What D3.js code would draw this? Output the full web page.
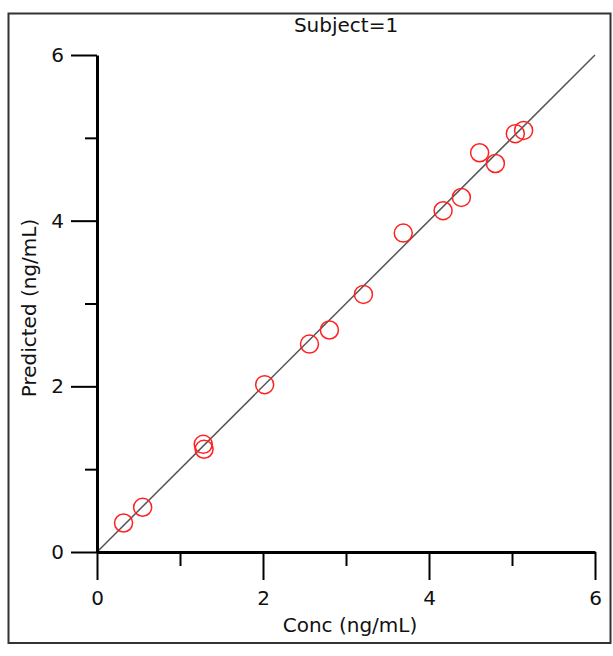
<!DOCTYPE html>
<html>
<head>
<meta charset="utf-8">
<script src="https://cdn.jsdelivr.net/npm/d3@7/dist/d3.min.js"></script>
<style>
  body { margin: 0; background: #fff; }
  svg { display: block; }
  text { font-family: "DejaVu Sans", Verdana, sans-serif; fill: #111; }
</style>
</head>
<body>
<svg id="chart" width="613" height="656"></svg>
<script>
const title = "Subject=1";
const xLabel = "Conc (ng/mL)";
const yLabel = "Predicted (ng/mL)";
const majorTicks = [0, 2, 4, 6];
const minorTicks = [1, 3, 5];
const concValues = [0.32, 0.55, 1.28, 1.29, 2.02, 2.56, 2.80, 3.21, 3.69, 4.17, 4.39, 4.61, 4.80, 5.04, 5.14];
const predictedValues = [0.35, 0.54, 1.30, 1.24, 2.02, 2.51, 2.68, 3.11, 3.85, 4.12, 4.28, 4.82, 4.69, 5.05, 5.09];
const identityLine = [0, 6];

(function () {
const svg = d3.select("#chart");
const mLeft = 97, mRight = 595, mTop = 55, mBottom = 552;

const x = d3.scaleLinear().domain([0, 6]).range([mLeft, mRight]);
const y = d3.scaleLinear().domain([0, 6]).range([mBottom, mTop]);

// frame
svg.append("rect")
  .attr("x", 8.5).attr("y", 13.5).attr("width", 602).attr("height", 629.5)
  .attr("fill", "none").attr("stroke", "#333").attr("stroke-width", 2);

// title
svg.append("text").attr("x", (mLeft + mRight) / 2).attr("y", 32)
  .attr("text-anchor", "middle").style("font-size", "20px").text(title);

// identity line
svg.append("line")
  .attr("x1", x(identityLine[0])).attr("y1", y(identityLine[0]))
  .attr("x2", x(identityLine[1])).attr("y2", y(identityLine[1]))
  .attr("stroke", "#555").attr("stroke-width", 1.5);

function styleAxis(g) {
  g.selectAll("line").attr("stroke", "#000").attr("stroke-width", 2);
  g.selectAll("path.domain").attr("stroke", "#000").attr("stroke-width", 3);
  g.selectAll("text").style("font-size", "20px").attr("fill", "#111");
}

const xMajor = svg.append("g").attr("transform", `translate(0,${mBottom})`)
  .call(d3.axisBottom(x).tickValues(majorTicks).tickSize(28).tickSizeOuter(0).tickPadding(11).tickFormat(d3.format("d")));
styleAxis(xMajor);
const xMinor = svg.append("g").attr("transform", `translate(0,${mBottom})`)
  .call(d3.axisBottom(x).tickValues(minorTicks).tickSize(14).tickSizeOuter(0).tickFormat(""));
styleAxis(xMinor);
xMinor.select("path.domain").remove();

const yMajor = svg.append("g").attr("transform", `translate(${mLeft},0)`)
  .call(d3.axisLeft(y).tickValues(majorTicks).tickSize(26).tickSizeOuter(0).tickPadding(7).tickFormat(d3.format("d")));
styleAxis(yMajor);
const yMinor = svg.append("g").attr("transform", `translate(${mLeft},0)`)
  .call(d3.axisLeft(y).tickValues(minorTicks).tickSize(12).tickSizeOuter(0).tickFormat(""));
styleAxis(yMinor);
yMinor.select("path.domain").remove();

svg.append("text").attr("x", (mLeft + mRight) / 2 + 4).attr("y", 632)
  .attr("text-anchor", "middle").style("font-size", "20px").text(xLabel);
svg.append("text").attr("transform", "translate(36,308) rotate(-90)")
  .attr("text-anchor", "middle").style("font-size", "20px").text(yLabel);

const data = concValues.map((c, i) => ({ c, p: predictedValues[i] }));
svg.append("g").selectAll("circle").data(data).join("circle")
  .attr("cx", d => x(d.c)).attr("cy", d => y(d.p)).attr("r", 9)
  .attr("fill", "none").attr("stroke", "#ff2020").attr("stroke-width", 1.5);
})();
</script>
</body>
</html>
